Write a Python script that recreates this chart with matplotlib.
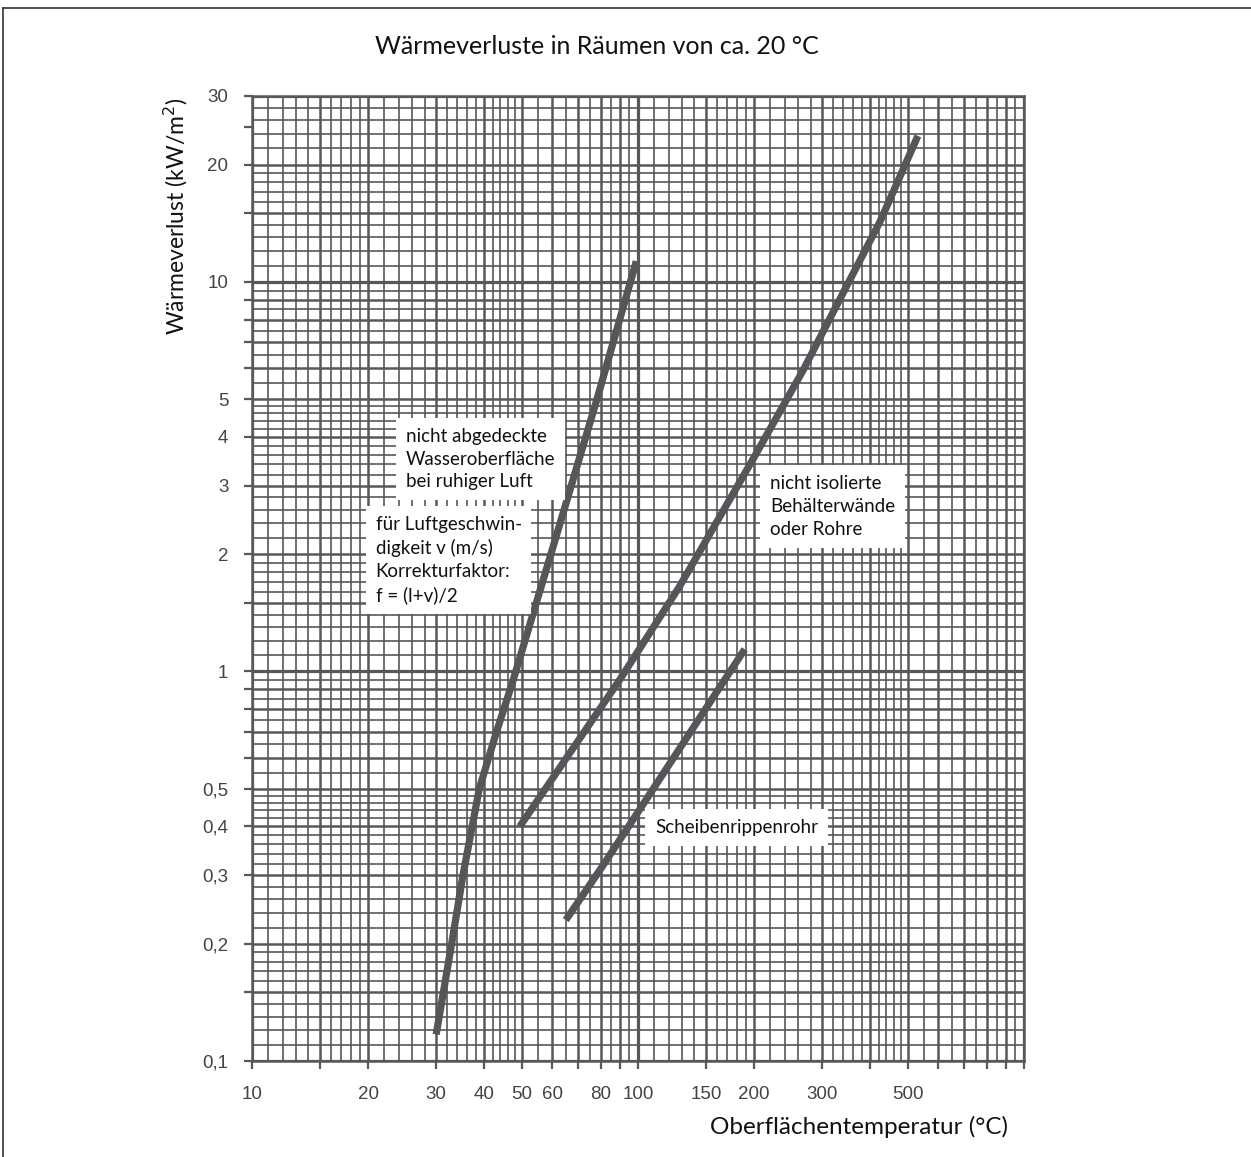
import matplotlib
matplotlib.use("Agg")
import matplotlib.pyplot as plt
from matplotlib.lines import Line2D

# curves (x: surface temperature in C, y: heat loss kW/m2)
water_x = [30, 32.9, 35.2, 38.8, 43, 47.5, 60, 78.3, 99]
water_y = [0.117, 0.2, 0.3, 0.5, 0.7, 0.95, 2.06, 5.0, 11.3]

wall_x = [49.4, 89.8, 128, 200, 267, 424, 531]
wall_y = [0.40, 0.954, 1.65, 3.55, 5.9, 14.3, 23.7]

fin_x = [65, 80.7, 189]
fin_y = [0.23, 0.315, 1.14]

xtick_vals = [10, 20, 30, 40, 50, 60, 80, 100, 150, 200, 300, 500]
xtick_text = ["10", "20", "30", "40", "50", "60", "80", "100", "150", "200", "300", "500"]
ytick_vals = [0.1, 0.2, 0.3, 0.4, 0.5, 1, 2, 3, 4, 5, 10, 20, 30]
ytick_text = ["0,1", "0,2", "0,3", "0,4", "0,5", "1", "2", "3", "4", "5", "10", "20", "30"]

GRID = "#585858"
CURVE = "#55555a"
LABEL_FONT = ["Lato", "DejaVu Sans"]
TICK_FONT = ["Liberation Sans", "DejaVu Sans"]

fig = plt.figure(figsize=(12.51, 11.57), dpi=100)
ax = fig.add_axes([252 / 1251, 96 / 1157, 772 / 1251, 965 / 1157])
ax.set_xscale("log")
ax.set_yscale("log")
ax.set_xlim(10, 1000)
ax.set_ylim(0.1, 30)

# log paper grid
thin_m = [1.1, 1.2, 1.3, 1.4, 1.6, 1.7, 1.8, 1.9, 2.2, 2.4, 2.6, 2.8,
          3.2, 3.4, 3.6, 3.8, 4.2, 4.4, 4.6, 4.8, 5.5, 6.5, 7.5, 8.5, 9.5]
thick_m = [1.5, 2, 3, 4, 5, 6, 7, 8, 9]


def grid_positions(decades, mults, lo, hi):
    vals = [d * m for d in decades for m in mults]
    return [v for v in vals if lo <= v <= hi * 1.0001]


xthin = grid_positions([10, 100], thin_m, 10, 1000)
xthick = grid_positions([10, 100], thick_m, 10, 1000)
ythin = grid_positions([0.1, 1, 10], thin_m, 0.1, 30)
ythick = grid_positions([0.1, 1, 10], thick_m, 0.1, 30)

ax.vlines(xthin, 0.1, 30, color=GRID, lw=1.2, zorder=1)
ax.hlines(ythin, 10, 1000, color=GRID, lw=1.2, zorder=1)
ax.vlines(xthick, 0.1, 30, color=GRID, lw=1.8, zorder=1)
ax.hlines(ythick, 10, 1000, color=GRID, lw=1.8, zorder=1)
ax.vlines([10, 100, 1000], 0.1, 30, color=GRID, lw=2.3, zorder=1)
ax.hlines([0.1, 1, 10, 30], 10, 1000, color=GRID, lw=2.3, zorder=1)

for s in ax.spines.values():
    s.set_color(GRID)
    s.set_linewidth(1.8)

# curves
for cx, cy in [(water_x, water_y), (wall_x, wall_y), (fin_x, fin_y)]:
    ax.plot(cx, cy, color=CURVE, lw=5.2, solid_capstyle="butt",
            solid_joinstyle="round", zorder=4)

# ticks
ax.set_xticks(xtick_vals, xtick_text)
ax.set_yticks(ytick_vals, ytick_text)
ax.set_xticks([15, 70, 90, 400, 600, 700, 800, 900, 1000], minor=True)
ax.set_yticks([0.15, 0.6, 0.7, 0.8, 0.9, 1.5, 6, 7, 8, 9, 15, 25], minor=True)
ax.yaxis.set_minor_formatter(plt.NullFormatter())
ax.xaxis.set_minor_formatter(plt.NullFormatter())
ax.tick_params(which="both", direction="out", color=GRID, width=1.6,
               length=6, labelcolor="#444444", labelsize=13.5)
ax.tick_params(axis="x", which="major", pad=12)
ax.tick_params(axis="y", which="major", pad=11)
for lab in ax.get_xticklabels() + ax.get_yticklabels():
    lab.set_family(TICK_FONT)

# annotation boxes
box = dict(facecolor="white", edgecolor="none", pad=7)
common = dict(ha="left", va="center", fontsize=13.5, family=LABEL_FONT,
              color="#111111", bbox=box, zorder=5)
ax.text(25.0, 3.51, "nicht abgedeckte\nWasseroberfläche\nbei ruhiger Luft",
        linespacing=1.42, **common)
ax.text(20.9, 1.93, "für Luftgeschwin-\ndigkeit v (m/s)\nKorrekturfaktor:\nf = (l+v)/2",
        linespacing=1.42, **common)
ax.text(220, 2.65, "nicht isolierte\nBehälterwände\noder Rohre",
        linespacing=1.42, **common)
ax.text(110.7, 0.397, "Scheibenrippenrohr", **common)

# titles
fig.text(597 / 1251, 1 - 47 / 1157, "Wärmeverluste in Räumen von ca. 20 °C",
         ha="center", va="center", fontsize=18, family=LABEL_FONT, color="#111111")
fig.text(1008 / 1251, 1 - 1127 / 1157, "Oberflächentemperatur (°C)",
         ha="right", va="center", fontsize=17.5, family=LABEL_FONT, color="#111111")
fig.text(176 / 1251, 1 - 98 / 1157, "Wärmeverlust (kW/m$^2$)", rotation=90,
         ha="center", va="top", fontsize=16.5, family=LABEL_FONT, color="#111111")

# outer frame (top and left edge)
fig.add_artist(Line2D([3 / 1251, 1], [1 - 8 / 1157, 1 - 8 / 1157],
                      color="#333333", lw=1.2, transform=fig.transFigure))
fig.add_artist(Line2D([3 / 1251, 3 / 1251], [0, 1 - 8 / 1157],
                      color="#333333", lw=1.2, transform=fig.transFigure))

fig.savefig("out.png", dpi=100, facecolor="white")
